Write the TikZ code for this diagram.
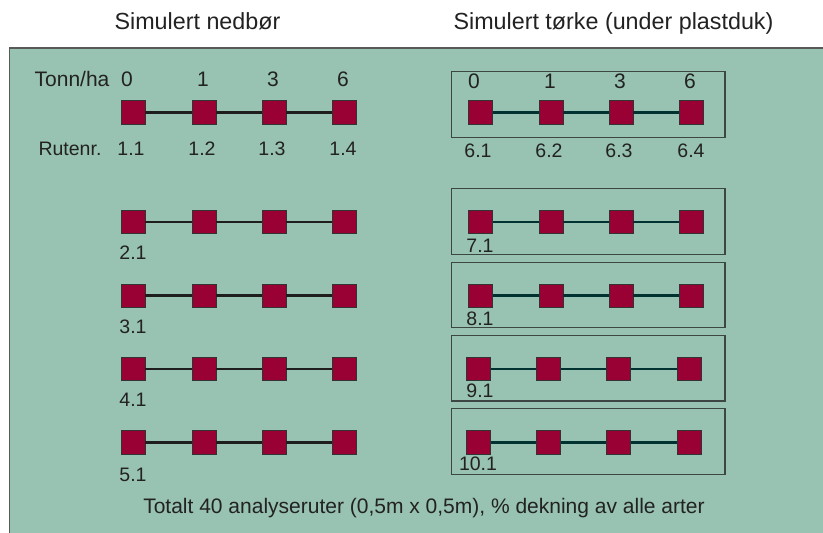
\documentclass[tikz,border=0pt]{standalone}
\usepackage{fontspec}
\setmainfont{Liberation Sans}
\definecolor{panelgreen}{RGB}{152,194,178}
\definecolor{plotred}{RGB}{153,0,51}
\definecolor{txt}{RGB}{34,34,34}
\definecolor{leftline}{RGB}{30,30,30}
\definecolor{rightline}{RGB}{0,50,50}
\definecolor{boxline}{RGB}{60,70,66}
\tikzset{
  plot/.style={draw=black!80, line width=0.8pt, fill=plotred, minimum width=24pt, minimum height=23.5pt, inner sep=0pt},
  lconn/.style={draw=leftline, line width=2.5pt},
  rconn/.style={draw=rightline, line width=2.5pt},
  lbl/.style={text=txt, font=\fontsize{19.5}{21}\selectfont, inner sep=0pt, text height=0.72em, text depth=0pt},
  hdr/.style={text=txt, font=\fontsize{21}{23}\selectfont, inner sep=0pt, text height=0.72em, text depth=0pt},
  ttl/.style={text=txt, font=\fontsize{23.3}{25}\selectfont, inner sep=0pt, text height=0.72em, text depth=0pt},
  bot/.style={text=txt, font=\fontsize{21}{23}\selectfont, inner sep=0pt, text height=0.72em, text depth=0pt},
  tbox/.style={draw=boxline, line width=1.1pt},
}
\begin{document}
\begin{tikzpicture}[x=1pt,y=-1pt]
\useasboundingbox (0,0) rectangle (823,533);
\fill[white] (0,0) rectangle (823,533);
% panel
\fill[panelgreen] (9.5,48) rectangle (830,540);
\draw[draw=black!65, line width=1.4pt] (9.5,540) -- (9.5,48) -- (830,48);
% titles
\node[ttl] (t1) at (197.5,25.5) {Simulert nedbør};
\node[ttl] (t2) at (613.5,25.5) {Simulert tørke (under plastduk)};
% left header
\node[hdr] (tonn) at (72,82.5) {Tonn/ha};
\node[hdr] (n0) at (127,82.5) {0};
\node[hdr] (n1) at (203,82.5) {1};
\node[hdr] (n3) at (273,82.5) {3};
\node[hdr] (n6) at (343,82.5) {6};
\node[lbl] (rut) at (70,152) {Rutenr.};
\node[lbl] (l11) at (131,152) {1.1};
\node[lbl] (l12) at (202,152) {1.2};
\node[lbl] (l13) at (272,152) {1.3};
\node[lbl] (l14) at (343,152) {1.4};
% left rows
\foreach \r/\y in {1/112.5,2/222,3/295.7,4/369,5/442.5}{
  \node[plot] (L\r a) at (133,\y) {};
  \node[plot] (L\r b) at (204,\y) {};
  \node[plot] (L\r c) at (274,\y) {};
  \node[plot] (L\r d) at (344,\y) {};
  \draw[lconn] (L\r a) -- (L\r b);
  \draw[lconn] (L\r b) -- (L\r c);
  \draw[lconn] (L\r c) -- (L\r d);
}
\node[lbl] (l21) at (133,256) {2.1};
\node[lbl] (l31) at (133,330) {3.1};
\node[lbl] (l41) at (133,403.3) {4.1};
\node[lbl] (l51) at (133,477.7) {5.1};
% right boxes
\draw[tbox] (451.7,71.3) rectangle (725,137.3);
\draw[tbox] (451.7,188.3) rectangle (725,254.3);
\draw[tbox] (451.7,262.3) rectangle (725,327.7);
\draw[tbox] (451.7,335.3) rectangle (725,401);
\draw[tbox] (451.7,408.7) rectangle (725,474.7);
% right header
\node[hdr] (m0) at (474,85) {0};
\node[hdr] (m1) at (550,85) {1};
\node[hdr] (m3) at (620,85) {3};
\node[hdr] (m6) at (690,85) {6};
\node[lbl] (l61) at (478,154) {6.1};
\node[lbl] (l62) at (549,154) {6.2};
\node[lbl] (l63) at (619,154) {6.3};
\node[lbl] (l64) at (691,154) {6.4};
% right rows
\foreach \r/\y/\dx in {6/112.5/0,7/222/0,8/295.7/0,9/369/-2.2,10/442.5/-2.2}{
  \node[plot] (R\r a) at (480.7+\dx,\y) {};
  \node[plot] (R\r b) at (551+\dx,\y) {};
  \node[plot] (R\r c) at (621+\dx,\y) {};
  \node[plot] (R\r d) at (691.7+\dx,\y) {};
  \draw[rconn] (R\r a) -- (R\r b);
  \draw[rconn] (R\r b) -- (R\r c);
  \draw[rconn] (R\r c) -- (R\r d);
}
\node[lbl] (l71) at (480,249) {7.1};
\node[lbl] (l81) at (480,321.7) {8.1};
\node[lbl] (l91) at (480,394) {9.1};
\node[lbl] (l101) at (478,466.7) {10.1};
% bottom text
\node[bot] (total) at (424,510) {Totalt 40 analyseruter (0,5m x 0,5m), \% dekning av alle arter};
\end{tikzpicture}
\end{document}
